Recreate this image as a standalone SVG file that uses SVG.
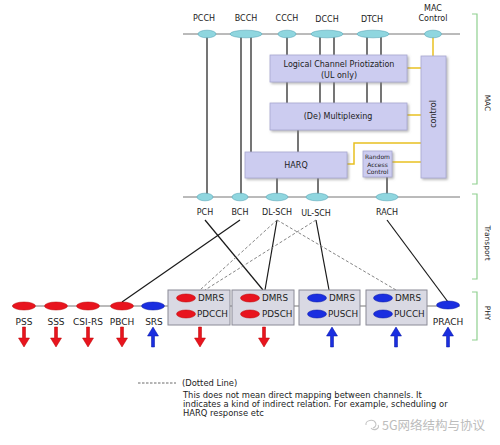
<svg xmlns="http://www.w3.org/2000/svg" width="500" height="445" viewBox="0 0 500 445">
<style>
text{font-family:"DejaVu Sans","Verdana",sans-serif;fill:#222}
.lbl{font-size:8px;text-anchor:middle}
.bx{fill:#ccccf0;stroke:#a8a8d0;stroke-width:0.8}
.bt{font-size:8px;text-anchor:middle}
.cy{fill:#8fd6df;stroke:#5aa8b8;stroke-width:0.6}
.bus{stroke:#777;stroke-width:1}
.ln{stroke:#1a1a1a;stroke-width:1.2;fill:none}
.dl{stroke:#777;stroke-width:0.9;stroke-dasharray:3 2;fill:none}
.yl{stroke:#e8c020;stroke-width:1.5;fill:none}
.gb{stroke:#8fd08f;stroke-width:1.2;fill:none}
.red{fill:#e8141e;stroke:#b00;stroke-width:0.5}
.blu{fill:#1a2ee0;stroke:#0010a0;stroke-width:0.5}
.pb{fill:#d9d9e3;stroke:#8a8a96;stroke-width:1}
.pt{font-size:8.8px}
.pl{font-size:9px;text-anchor:middle}
.side{font-size:7.5px;text-anchor:middle}
.lg{font-size:8.4px}
</style>
<defs>
<filter id="sh" x="-10%" y="-10%" width="130%" height="140%"><feDropShadow dx="1.5" dy="1.5" stdDeviation="1" flood-color="#888" flood-opacity="0.6"/></filter>
<path id="ad" d="M-1.5,0 h3 v11 h4 l-5.5,9 l-5.5,-9 h4 z"/>
<path id="au" d="M-1.5,20 h3 v-11 h4 l-5.5,-9 l-5.5,9 h4 z"/>
</defs>

<!-- connectors -->
<g id="connectors">
<line class="bus" x1="183" y1="34" x2="460" y2="34"/>
<line class="bus" x1="183" y1="197" x2="460" y2="197"/>
<line class="bus" x1="12" y1="306" x2="460" y2="306"/>
<line class="ln" x1="207" y1="34" x2="207" y2="197"/>
<line class="ln" x1="241" y1="34" x2="241" y2="197"/>
<line class="ln" x1="251" y1="34" x2="251" y2="152"/>
<line class="ln" x1="287" y1="34" x2="287" y2="56"/>
<line class="ln" x1="320" y1="34" x2="320" y2="56"/>
<line class="ln" x1="334" y1="34" x2="334" y2="56"/>
<line class="ln" x1="367" y1="34" x2="367" y2="56"/>
<line class="ln" x1="381" y1="34" x2="381" y2="56"/>
<line class="ln" x1="287" y1="82" x2="287" y2="103"/>
<line class="ln" x1="320" y1="82" x2="320" y2="103"/>
<line class="ln" x1="334" y1="82" x2="334" y2="103"/>
<line class="ln" x1="367" y1="82" x2="367" y2="103"/>
<line class="ln" x1="381" y1="82" x2="381" y2="103"/>
<line class="ln" x1="298" y1="130" x2="298" y2="152"/>
<line class="ln" x1="277" y1="178" x2="277" y2="197"/>
<line class="ln" x1="318" y1="178" x2="318" y2="197"/>
<line class="ln" x1="387" y1="177" x2="387" y2="197"/>
<line class="yl" x1="433" y1="34" x2="433" y2="56"/>
<line class="yl" x1="407" y1="68" x2="421" y2="68"/>
<line class="yl" x1="407" y1="115" x2="421" y2="115"/>
<polyline class="yl" points="347,164 354,164 354,143 421,143"/>
<line class="yl" x1="392" y1="162" x2="421" y2="162"/>
<line class="ln" x1="205" y1="220" x2="263" y2="290"/>
<line class="ln" x1="240" y1="220" x2="122" y2="302"/>
<line class="ln" x1="277" y1="220" x2="265" y2="290"/>
<line class="ln" x1="316" y1="220" x2="329" y2="290"/>
<line class="ln" x1="387" y1="220" x2="448" y2="302"/>
<line class="dl" x1="277" y1="220" x2="200" y2="290"/>
<line class="dl" x1="316" y1="220" x2="205" y2="290"/>
<line class="dl" x1="277" y1="220" x2="396" y2="290"/>
</g>

<g id="logical-channels">
<ellipse class="cy" cx="207" cy="34" rx="9" ry="3.8"/>
<ellipse class="cy" cx="246" cy="34" rx="16" ry="3.8"/>
<ellipse class="cy" cx="287" cy="34" rx="9" ry="3.8"/>
<ellipse class="cy" cx="327" cy="34" rx="16" ry="3.8"/>
<ellipse class="cy" cx="373" cy="34" rx="16" ry="3.8"/>
<ellipse class="cy" cx="433" cy="34" rx="8.5" ry="3.8"/>
<text class="lbl" x="204" y="21">PCCH</text>
<text class="lbl" x="246" y="21">BCCH</text>
<text class="lbl" x="287" y="21">CCCH</text>
<text class="lbl" x="327" y="22">DCCH</text>
<text class="lbl" x="372" y="22">DTCH</text>
<text class="lbl" x="433" y="11">MAC</text>
<text class="lbl" x="433" y="21">Control</text>
</g>

<g id="lcp">
<rect class="bx" x="270" y="55" width="137" height="27" filter="url(#sh)"/>
<text class="bt" x="339" y="67">Logical Channel Priotization</text>
<text class="bt" x="339" y="78">(UL only)</text>
</g>
<g id="mux">
<rect class="bx" x="270" y="103" width="137" height="27" filter="url(#sh)"/>
<text class="bt" x="338" y="119">(De) Multiplexing</text>
</g>
<g id="harq">
<rect class="bx" x="245" y="152" width="102" height="26" filter="url(#sh)"/>
<text class="bt" x="296" y="168">HARQ</text>
</g>
<g id="rac">
<rect class="bx" x="363" y="151" width="29" height="26" filter="url(#sh)"/>
<text x="377.5" y="159" style="font-size:6px;text-anchor:middle">Random</text>
<text x="377.5" y="166.5" style="font-size:6px;text-anchor:middle">Access</text>
<text x="377.5" y="174" style="font-size:6px;text-anchor:middle">Control</text>
</g>
<g id="control">
<rect class="bx" x="421" y="56" width="25" height="122" filter="url(#sh)"/>
<text class="bt" transform="translate(436,114) rotate(-90)">control</text>
</g>

<g id="transport-channels">
<ellipse class="cy" cx="205" cy="197" rx="8" ry="3.8"/>
<ellipse class="cy" cx="240" cy="197" rx="8" ry="3.8"/>
<ellipse class="cy" cx="277" cy="197" rx="11" ry="3.8"/>
<ellipse class="cy" cx="317" cy="197" rx="11" ry="3.8"/>
<ellipse class="cy" cx="387" cy="197" rx="11" ry="3.8"/>
<text class="lbl" x="205" y="215">PCH</text>
<text class="lbl" x="240" y="215">BCH</text>
<text class="lbl" x="277" y="215">DL-SCH</text>
<text class="lbl" x="316" y="216">UL-SCH</text>
<text class="lbl" x="387" y="215">RACH</text>
</g>

<g id="layers">
<polyline class="gb" points="472,14 477,14 477,184 472,184"/>
<polyline class="gb" points="472,194 477,194 477,279 472,279"/>
<polyline class="gb" points="472,292 477,292 477,340 472,340"/>
<text class="side" transform="translate(485,103) rotate(90)">MAC</text>
<text class="side" transform="translate(485,243) rotate(90)">Transport</text>
<text class="side" transform="translate(485,313) rotate(90)">PHY</text>
</g>

<g id="phy-signals">
<ellipse class="red" cx="24" cy="306" rx="11.5" ry="4"/>
<ellipse class="red" cx="56" cy="306" rx="11.5" ry="4"/>
<ellipse class="red" cx="88" cy="306" rx="11.5" ry="4"/>
<ellipse class="red" cx="122" cy="306" rx="11.5" ry="4"/>
<ellipse class="blu" cx="153" cy="306" rx="11.5" ry="4"/>
<text class="pl" x="24" y="325">PSS</text>
<text class="pl" x="56" y="325">SSS</text>
<text class="pl" x="88" y="325">CSI-RS</text>
<text class="pl" x="122" y="325">PBCH</text>
<text class="pl" x="154" y="325">SRS</text>
<use href="#ad" x="24" y="327" class="red"/>
<use href="#ad" x="56" y="327" class="red"/>
<use href="#ad" x="88" y="327" class="red"/>
<use href="#ad" x="122" y="327" class="red"/>
<use href="#au" x="153" y="327" class="blu"/>
</g>
<g id="pdcch-box">
<rect class="pb" x="168" y="290" width="62" height="35"/>
<ellipse class="red" cx="186" cy="298" rx="9.5" ry="4"/>
<ellipse class="red" cx="186" cy="314" rx="9.5" ry="4"/>
<text class="pt" x="198" y="301">DMRS</text>
<text class="pt" x="197" y="317">PDCCH</text>
<use href="#ad" x="200" y="327" class="red"/>
</g>
<g id="pdsch-box">
<rect class="pb" x="232" y="290" width="62" height="35"/>
<ellipse class="red" cx="250" cy="298" rx="9.5" ry="4"/>
<ellipse class="red" cx="250" cy="314" rx="9.5" ry="4"/>
<text class="pt" x="262" y="301">DMRS</text>
<text class="pt" x="262" y="317">PDSCH</text>
<use href="#ad" x="264" y="327" class="red"/>
</g>
<g id="pusch-box">
<rect class="pb" x="299" y="290" width="61" height="35"/>
<ellipse class="blu" cx="317" cy="298" rx="9.5" ry="4"/>
<ellipse class="blu" cx="317" cy="314" rx="9.5" ry="4"/>
<text class="pt" x="329" y="301">DMRS</text>
<text class="pt" x="328" y="317">PUSCH</text>
<use href="#au" x="332" y="327" class="blu"/>
</g>
<g id="pucch-box">
<rect class="pb" x="366" y="290" width="61" height="35"/>
<ellipse class="blu" cx="383" cy="298" rx="9.5" ry="4"/>
<ellipse class="blu" cx="383" cy="314" rx="9.5" ry="4"/>
<text class="pt" x="395" y="301">DMRS</text>
<text class="pt" x="394" y="317">PUCCH</text>
<use href="#au" x="396" y="327" class="blu"/>
</g>
<g id="prach">
<ellipse class="blu" cx="448" cy="305" rx="11.5" ry="4"/>
<text class="pl" x="448" y="325">PRACH</text>
<use href="#au" x="448" y="327" class="blu"/>
</g>

<g id="legend">
<line x1="138" y1="383" x2="176" y2="383" style="stroke:#444;stroke-width:0.8;stroke-dasharray:2.5 1.5"/>
<text class="lg" x="182" y="386">(Dotted Line)</text>
<text class="lg" x="183" y="398">This does not mean direct mapping between channels. It</text>
<text class="lg" x="183" y="407">indicates a kind of indirect relation. For example, scheduling or</text>
<text class="lg" x="183" y="416">HARQ response etc</text>
<g style="fill:none;stroke:#c4c4c4;stroke-width:1.1">
<path d="M366,425 a5,4 0 1 1 7,3"/>
<path d="M371,428 a4,3 0 1 0 7,-3"/>
</g>
<text x="382" y="430" style="font-family:'Noto Sans CJK SC',sans-serif;font-size:12.5px;fill:#bcbcbc">5G网络结构与协议</text>
</g>
</svg>
